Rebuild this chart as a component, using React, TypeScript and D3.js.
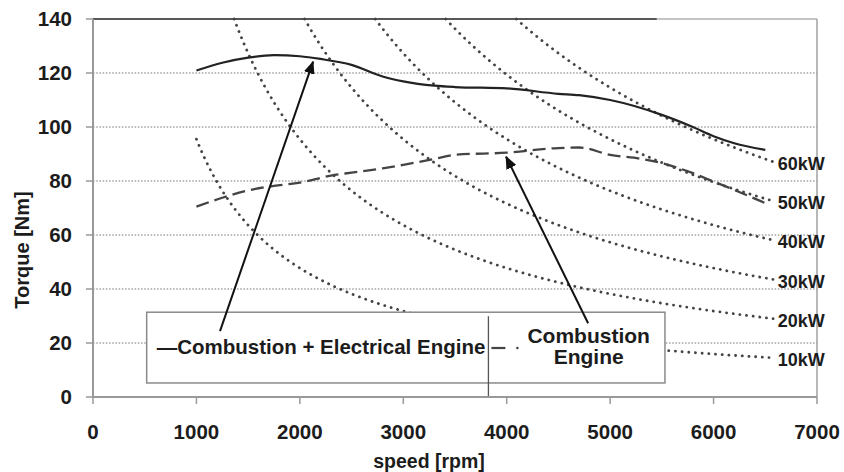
import React from "react";
import * as d3 from "d3";

// ---- data ----
const xTicks = [0, 1000, 2000, 3000, 4000, 5000, 6000, 7000];
const yTicks = [0, 20, 40, 60, 80, 100, 120, 140];

// Combustion + Electrical Engine (solid)
const speedCE = [1000, 1250, 1500, 1750, 2000, 2200, 2500, 2800, 3000, 3300, 3500, 4000, 4500, 4700, 5000, 5500, 5800, 6000, 6200, 6500];
const torqueCE = [120.9, 123.8, 125.7, 126.6, 126.2, 125.2, 123, 118.7, 116.9, 115.3, 114.8, 114.3, 112.3, 111.8, 110, 104.5, 100, 96.6, 94, 91.5];

// Combustion Engine (dashed)
const speedC = [1000, 1250, 1500, 1750, 2000, 2300, 2500, 2800, 3000, 3300, 3500, 4000, 4500, 4700, 5000, 5300, 5500, 5800, 6000, 6200, 6500];
const torqueC = [70.5, 73.8, 76.5, 78.2, 79.4, 82, 83.1, 84.7, 86, 88.2, 89.7, 90.5, 92.2, 92.4, 89.7, 88.2, 86.6, 82.9, 79.8, 76.7, 71.8];

// constant power iso-lines (kW)
const powers = [10, 20, 30, 40, 50, 60];
const powerLabels = ["10kW", "20kW", "30kW", "40kW", "50kW", "60kW"];
const isoStart = 1000;
const isoEnd = 6600;

// annotation arrows (rpm, Nm)
const arrowCE = { from: [1228, 24.4], to: [2128, 124.2] };
const arrowC = { from: [4787, 27.3], to: [3994, 89] };

// legend frame (rpm, Nm)
const legendBox = { x0: 519, x1: 5530, y0: 5.2, y1: 31.4, divider: 3823 };

const W = 844, H = 472;
const M = { left: 93, right: 817, top: 19, bottom: 397 };

export default function App() {
  const x = d3.scaleLinear().domain([0, 7000]).range([M.left, M.right]);
  const y = d3.scaleLinear().domain([0, 140]).range([M.bottom, M.top]);

  const line = d3
    .line<[number, number]>()
    .x((d) => x(d[0]))
    .y((d) => y(d[1]))
    .curve(d3.curveMonotoneX);

  const ceData = speedCE.map((s, i) => [s, torqueCE[i]] as [number, number]);
  const cData = speedC.map((s, i) => [s, torqueC[i]] as [number, number]);

  const K = 60000 / (2 * Math.PI); // Nm*rpm per kW
  const iso = powers.map((p) => {
    const start = Math.max(isoStart, (K * p) / 140);
    const pts: [number, number][] = [];
    for (let n = start; n <= isoEnd + 0.1; n += 25) pts.push([n, (K * p) / n]);
    return pts;
  });

  const font = "'Liberation Sans', Arial, Helvetica, sans-serif";
  const txt = "#1c1c1c";

  const bx0 = x(legendBox.x0), bx1 = x(legendBox.x1);
  const by0 = y(legendBox.y1), by1 = y(legendBox.y0);
  const dvx = x(legendBox.divider);

  return (
    <svg width={W} height={H} style={{ position: "absolute", left: 0, top: 0, background: "#fff" }} fontFamily={font}>
      <defs>
        <marker id="ah" viewBox="0 0 13 11" refX="12" refY="5.5" markerWidth="13" markerHeight="11" markerUnits="userSpaceOnUse" orient="auto">
          <path d="M0,0 L13,5.5 L0,11 Z" fill="#111" />
        </marker>
      </defs>

      {/* gridlines */}
      {yTicks.filter((t) => t > 0 && t < 140).map((t) => (
        <line key={"g" + t} x1={M.left} x2={M.right} y1={y(t)} y2={y(t)} stroke="#a8a8a8" strokeWidth={1.6} strokeDasharray="1.6,1.6" />
      ))}

      {/* frame */}
      <line x1={M.left} x2={M.right} y1={y(140)} y2={y(140)} stroke="#b0b0b0" strokeWidth={1.5} />
      <line x1={M.right} x2={M.right} y1={y(140)} y2={y(0)} stroke="#a0a0a0" strokeWidth={1.5} />
      <line x1={M.left} x2={x(5450)} y1={y(140)} y2={y(140)} stroke="#333" strokeWidth={1.6} />

      {/* iso-power curves */}
      {iso.map((pts, i) => (
        <path key={"iso" + i} d={line(pts) || ""} fill="none" stroke="#444" strokeWidth={2.8} strokeDasharray="0.1,6.6" strokeLinecap="round" />
      ))}

      {/* power labels */}
      {powers.map((p, i) => (
        <text key={"pl" + i} x={x(isoEnd) + 2} y={y((K * p) / isoEnd) + 3} dominantBaseline="middle" fontSize={18} fontWeight="bold" fill={txt}>
          {powerLabels[i]}
        </text>
      ))}

      {/* series */}
      <path d={line(cData) || ""} fill="none" stroke="#444" strokeWidth={2.3} strokeDasharray="13,6" />
      <path d={line(ceData) || ""} fill="none" stroke="#222" strokeWidth={2.2} />

      {/* legend box */}
      <rect x={bx0} y={by0} width={bx1 - bx0} height={by1 - by0} fill="#fff" stroke="#8a8a8a" strokeWidth={1.5} />
      <line x1={dvx} x2={dvx} y1={by0 + 4} y2={y(0)} stroke="#555" strokeWidth={1.3} />
      <text x={bx0 + 10} y={354} fontSize={20.5} fontWeight="bold" fill={txt}>
        —Combustion + Electrical Engine
      </text>
      <line x1={dvx + 3} x2={dvx + 17} y1={348} y2={348} stroke="#444" strokeWidth={2.2} />
      <circle cx={dvx + 29} cy={348} r={1.3} fill="#444" />
      <text x={(dvx + bx1) / 2 + 12} y={343} textAnchor="middle" fontSize={21} fontWeight="bold" fill={txt}>Combustion</text>
      <text x={(dvx + bx1) / 2 + 12} y={364} textAnchor="middle" fontSize={21} fontWeight="bold" fill={txt}>Engine</text>

      {/* arrows */}
      <line x1={x(arrowCE.from[0])} y1={y(arrowCE.from[1])} x2={x(arrowCE.to[0])} y2={y(arrowCE.to[1])} stroke="#111" strokeWidth={2} markerEnd="url(#ah)" />
      <line x1={x(arrowC.from[0])} y1={y(arrowC.from[1])} x2={x(arrowC.to[0])} y2={y(arrowC.to[1])} stroke="#111" strokeWidth={2} markerEnd="url(#ah)" />

      {/* axes */}
      <line x1={M.left} x2={M.right} y1={y(0)} y2={y(0)} stroke="#999" strokeWidth={2} />
      <line x1={M.left} x2={M.left} y1={y(0)} y2={y(140)} stroke="#999" strokeWidth={2} />
      {xTicks.map((t) => (
        <g key={"xt" + t}>
          <line x1={x(t)} x2={x(t)} y1={y(0)} y2={y(0) + 7} stroke="#999" strokeWidth={1.5} />
          <text x={x(t)} y={439} textAnchor="middle" fontSize={20.5} fontWeight="bold" fill={txt}>{t}</text>
        </g>
      ))}
      {yTicks.map((t) => (
        <g key={"yt" + t}>
          <line x1={M.left - 7} x2={M.left} y1={y(t)} y2={y(t)} stroke="#999" strokeWidth={1.5} />
          <text x={72} y={y(t)} dy="0.36em" textAnchor="end" fontSize={20.5} fontWeight="bold" fill={txt}>{t}</text>
        </g>
      ))}

      <text x={0} y={0} transform={`translate(29,${250}) rotate(-90)`} textAnchor="middle" fontSize={20} fontWeight="bold" fill={txt}>Torque [Nm]</text>
      <text x={429} y={468} textAnchor="middle" fontSize={19.5} fontWeight="bold" fill={txt}>speed [rpm]</text>
    </svg>
  );
}
